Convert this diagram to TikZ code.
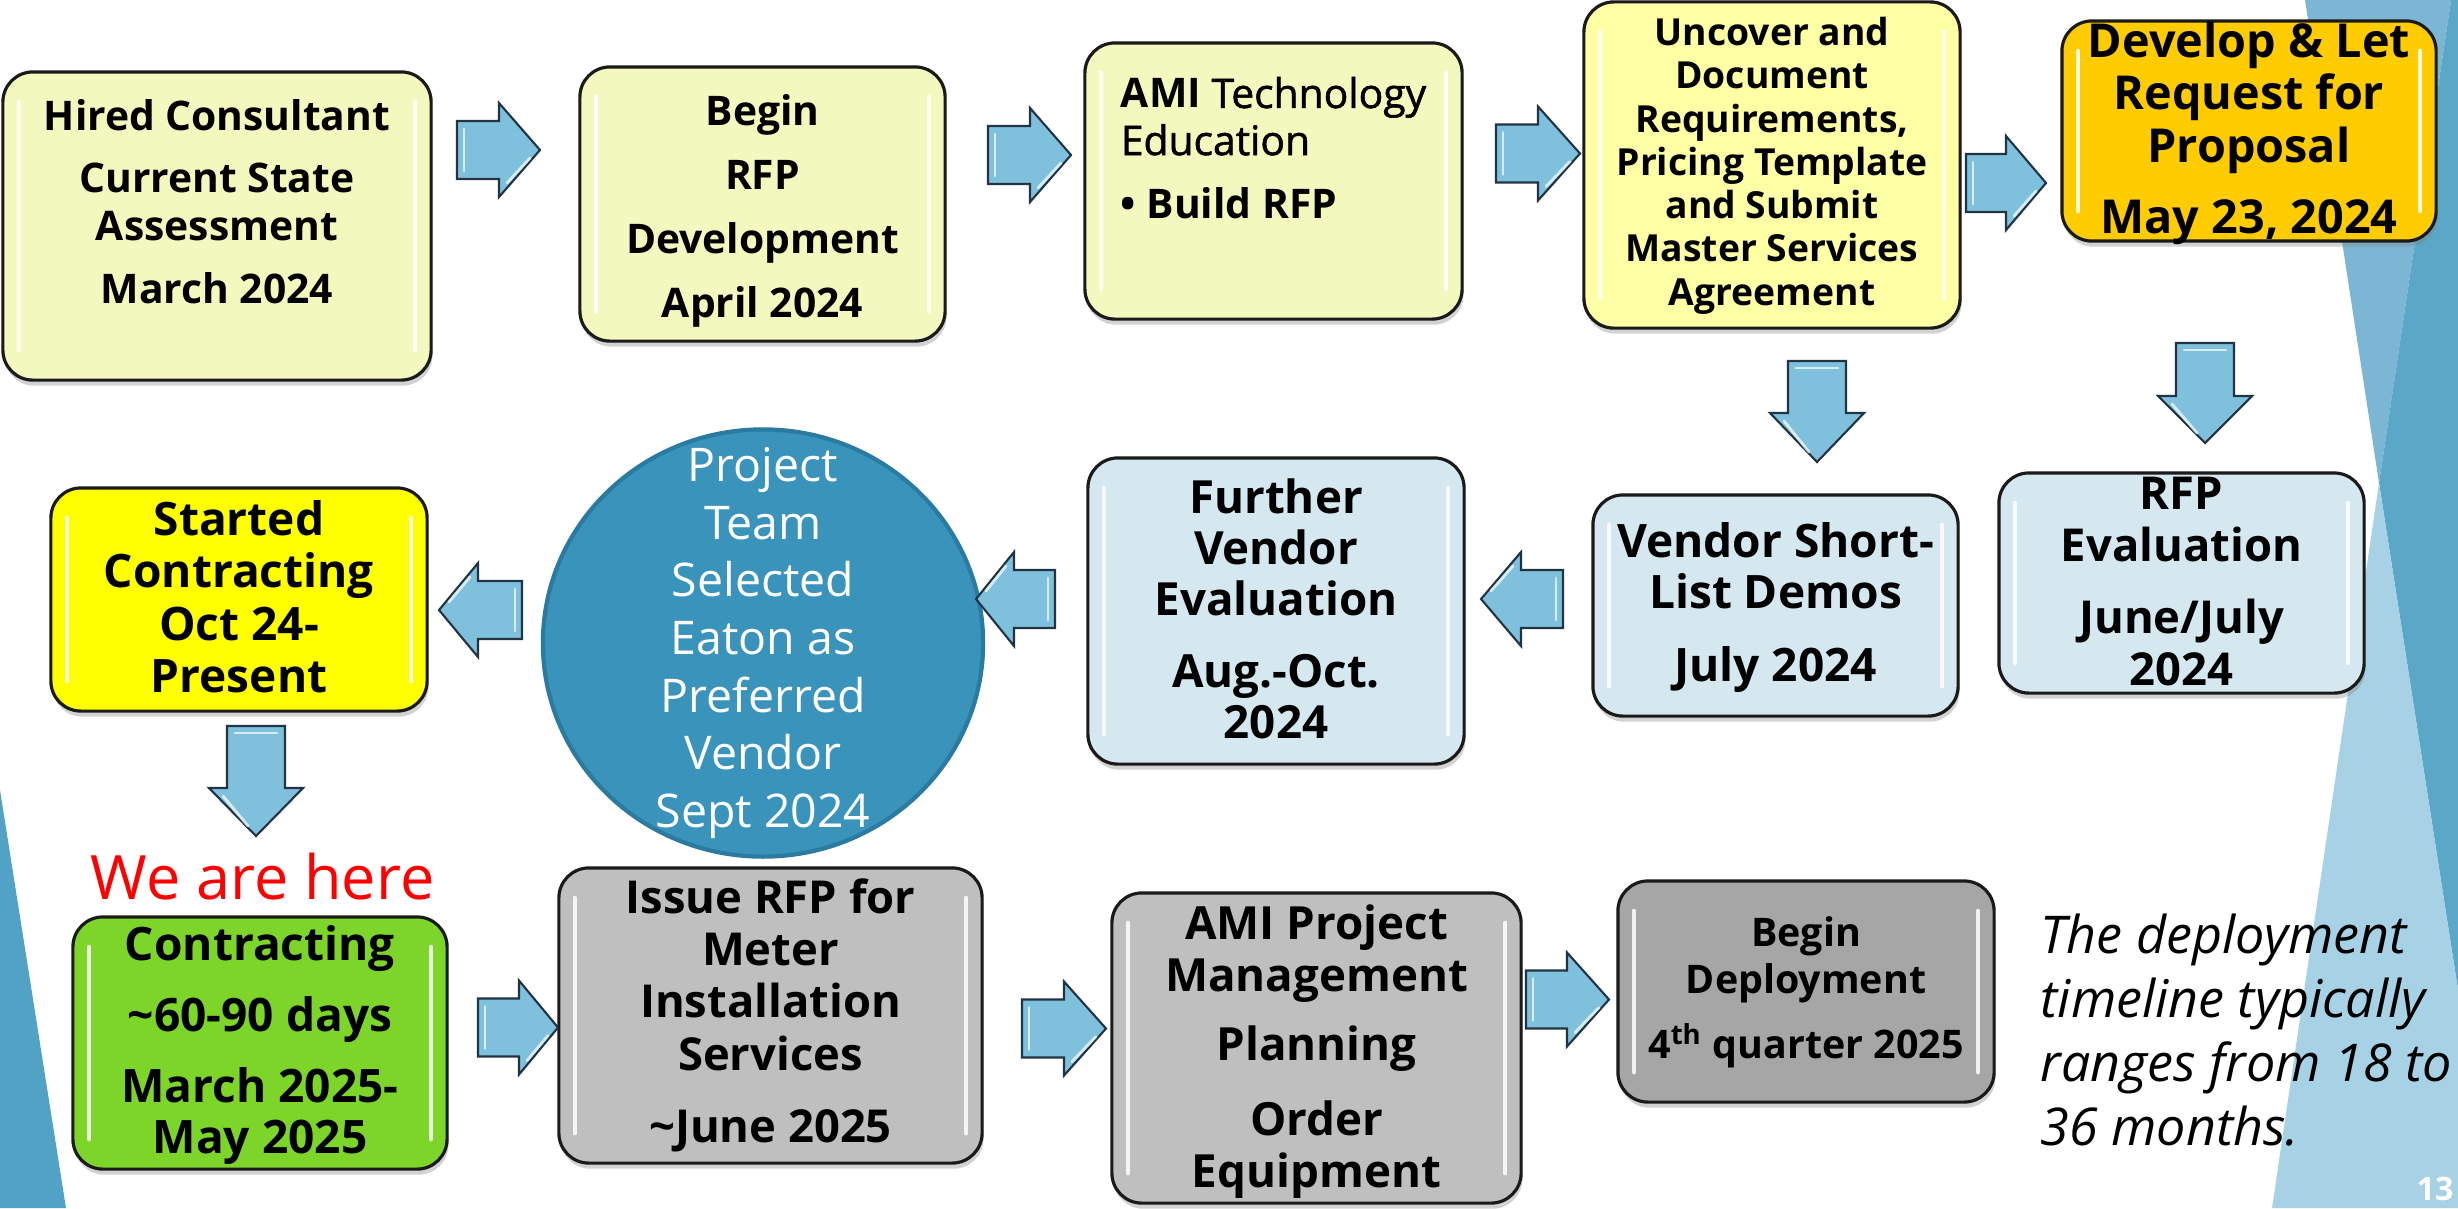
\documentclass[tikz,border=0pt]{standalone}
\usepackage{fontspec}
\setmainfont{Open Sans}
\newfontfamily\midweight[FakeBold=1.3]{Open Sans}
\usepackage{tikz}
\usetikzlibrary{positioning,shapes.geometric,shadows,calc}

\definecolor{paleyellow}{HTML}{F3F8BE}
\definecolor{brightpale}{HTML}{FFFFA6}
\definecolor{gold}{HTML}{FFCC00}
\definecolor{paleblue}{HTML}{D5E8F0}
\definecolor{lemon}{HTML}{FFFF00}
\definecolor{leaf}{HTML}{7ED52A}
\definecolor{midgray}{HTML}{BFBFBF}
\definecolor{deepgray}{HTML}{A6A6A6}
\definecolor{circleblue}{HTML}{3993BA}
\definecolor{circleedge}{HTML}{2B7BA0}
\definecolor{arrowblue}{HTML}{7FC1DC}
\definecolor{arrowline}{HTML}{223344}
\definecolor{boxline}{HTML}{1A1A1A}
\definecolor{facetA}{HTML}{7BB7D4}
\definecolor{facetAB}{HTML}{5BA7C8}
\definecolor{facetB}{HTML}{A7D2E5}
\definecolor{sideblue}{HTML}{52A2C6}

\begin{document}
\begin{tikzpicture}[
		x=0.01cm,y=-0.01cm,
		box/.style={
			draw=boxline,
			line width=0.9pt,
			rounded corners=3mm,
			align=center,
			inner xsep=2pt,
			inner ysep=0pt,
			drop shadow={shadow xshift=0.4pt,shadow yshift=-1.6pt,opacity=0.35},
			path picture={
				\draw[white,opacity=0.85,line width=1.3pt,line cap=round]
					([xshift=1.6mm,yshift=-3mm]path picture bounding box.north west) --
					([xshift=1.6mm,yshift=3mm]path picture bounding box.south west)
					([xshift=-1.6mm,yshift=-3mm]path picture bounding box.north east) --
					([xshift=-1.6mm,yshift=3mm]path picture bounding box.south east);
			}
		},
		boxfont/.style 2 args={
			font=\bfseries\fontsize{#1}{#2}\selectfont
		},
		arrowbody/.style={
			fill=arrowblue,
			draw=arrowline,
			line width=0.6pt,
			line join=miter
		},
		arrowshine/.style={
			draw=white,
			opacity=0.7,
			line width=0.8pt,
			line cap=round
		},
		pics/barrow/.style 2 args={
			code={
				\filldraw[arrowbody] (0,-29) -- ({#1-#2},-29) -- ({#1-#2},-47) -- (#1,0) -- ({#1-#2},47) -- ({#1-#2},29) -- (0,29) -- cycle;
				\draw[arrowshine] (7,-21) -- (7,21);
				\draw[arrowshine] ({#1-#2+8},33) -- ({#1-10},8);
			}
		}
		]
		\useasboundingbox (0,0) rectangle (2458,1208);
		\clip (0,0) rectangle (2458,1208);
		\fill[white] (0,0) rectangle (2458,1208);
		\fill[facetA] (2305,0) -- (2451,0) -- (2379,483) -- cycle;
		\fill[facetAB] (2451,0) -- (2458,0) -- (2458,990) -- (2379,483) -- cycle;
		\fill[facetB] (2379,483) -- (2458,990) -- (2458,1208) -- (2272,1208) -- cycle;
		\fill[sideblue] (0,790) -- (66,1208) -- (0,1208) -- cycle;

		\node[box,fill=paleyellow,boxfont={11.6}{13.4},minimum width=4.28cm,text height=2.31cm,text depth=0.77cm] (hired) at (217,226) {Hired Consultant\\[4.5pt]Current State\\Assessment\\[4.5pt]March 2024};
		\node[box,fill=paleyellow,boxfont={11.6}{13.4},minimum width=3.65cm,text height=2.50cm,text depth=0.24cm] (begin) at (762.5,204) {Begin\\[4.8pt]RFP\\[4.8pt]Development\\[4.8pt]April 2024};
		\node[box,fill=paleyellow,font=\fontsize{11.6}{13.4}\selectfont,align=left,minimum width=3.77cm,text height=1.75cm,text depth=1.01cm] (ami) at (1273.5,181) {{\bfseries AMI} {\midweight Technology}\\{\midweight Education}\\[4.5pt]\textbf{\textbullet\ Build RFP}};
		\node[box,fill=brightpale,boxfont={10.6}{12.3},minimum width=3.76cm,text height=3.03cm,text depth=0.23cm] (uncover) at (1772,165) {Uncover and\\Document\\Requirements,\\Pricing Template\\and Submit\\Master Services\\Agreement};
		\node[box,fill=gold,boxfont={13.3}{14.8},minimum width=3.74cm,text height=2.12cm,text depth=0.08cm] (develop) at (2249,131) {Develop \& Let\\Request for\\Proposal\\[5.4pt]May 23, 2024};

		\node[box,fill=paleblue,boxfont={12.9}{14.8},minimum width=3.65cm,text height=2.12cm,text depth=0.08cm] (rfpeval) at (2181.5,583) {RFP\\Evaluation\\[5.4pt]June/July\\2024};
		\node[box,fill=paleblue,boxfont={13.1}{14.5},minimum width=3.65cm,text height=1.86cm,text depth=0.35cm] (shortlist) at (1775.5,605.5) {Vendor Short-\\List Demos\\[6pt]July 2024};
		\node[box,fill=paleblue,boxfont={13}{14.5},minimum width=3.76cm,text height=2.80cm,text depth=0.26cm] (further) at (1276,611) {Further\\Vendor\\Evaluation\\[6pt]Aug.-Oct.\\2024};
		\node[ellipse,draw=circleedge,line width=1.2pt,fill=circleblue,text=white,align=center,minimum width=4.4cm,minimum height=4.27cm,inner xsep=0pt,inner ysep=-0.6cm,font=\fontsize{13.2}{16.4}\selectfont] (team) at (763,643) {Project\\Team\\Selected\\Eaton as\\Preferred\\Vendor\\Sept 2024};
		\node[box,fill=lemon,boxfont={13.1}{14.8},minimum width=3.76cm,text height=2.04cm,text depth=0.19cm] (started) at (239,599.5) {Started\\Contracting\\Oct 24-\\Present};

		\node[anchor=base west,inner sep=0pt,text=red,font=\fontsize{17.4}{20}\selectfont] (here) at (90,899) {We are here};
		\node[box,fill=leaf,boxfont={13.1}{14.5},minimum width=3.74cm,text height=2.36cm,text depth=0.16cm] (contract) at (260,1043) {Contracting\\[5.7pt]\textasciitilde60-90 days\\[5.7pt]March 2025-\\May 2025};
		\node[box,fill=midgray,boxfont={12.9}{14.8},minimum width=4.23cm,text height=2.74cm,text depth=0.21cm] (issue) at (770.5,1015.5) {Issue RFP for\\Meter\\Installation\\Services\\[5.7pt]\textasciitilde June 2025};
		\node[box,fill=midgray,boxfont={13}{14.8},minimum width=4.09cm,text height=2.94cm,text depth=0.16cm] (amiproj) at (1316.5,1048) {AMI Project\\Management\\[4.6pt]Planning\\[6.5pt]Order\\Equipment};
		\node[box,fill=deepgray,boxfont={11.2}{13.1},minimum width=3.76cm,text height=1.77cm,text depth=0.44cm] (deploy) at (1806,991.5) {Begin\\Deployment\\[5.4pt]4\textsuperscript{th} quarter 2025};
		\node[anchor=north west,inner sep=0pt,align=left,font=\itshape\fontsize{14.8}{18.2}\selectfont] (note) at (2040,913) {The deployment\\timeline typically\\ranges from 18 to\\36 months.};
		\node[anchor=base west,inner sep=0pt,text=white,font=\bfseries\fontsize{9.2}{10}\selectfont] (pagenum) at (2416,1200) {13};

		\pic (ra) at (457,150) {barrow={83}{41}};
		\pic (rb) at (988,155) {barrow={83}{41}};
		\pic (rc) at (1496,153.5) {barrow={84}{42}};
		\pic (rd) at (1966,183) {barrow={80}{40}};
		\pic[rotate=-90] (da) at (1817,361) {barrow={101}{49}};
		\pic[rotate=-90] (db) at (2205,343) {barrow={100}{47}};
		\pic[rotate=180] (la) at (1563,599) {barrow={82}{40}};
		\pic[rotate=180] (lb) at (1055,599) {barrow={79}{38}};
		\pic[rotate=180] (lc) at (522,610) {barrow={83}{39}};
		\pic[rotate=-90] (dc) at (256,726) {barrow={110}{48}};
		\pic (re) at (478,1027.5) {barrow={80}{39}};
		\pic (rf) at (1022,1028.5) {barrow={84}{42}};
		\pic (rg) at (1526,999.5) {barrow={83}{42}};
\end{tikzpicture}
\end{document}
